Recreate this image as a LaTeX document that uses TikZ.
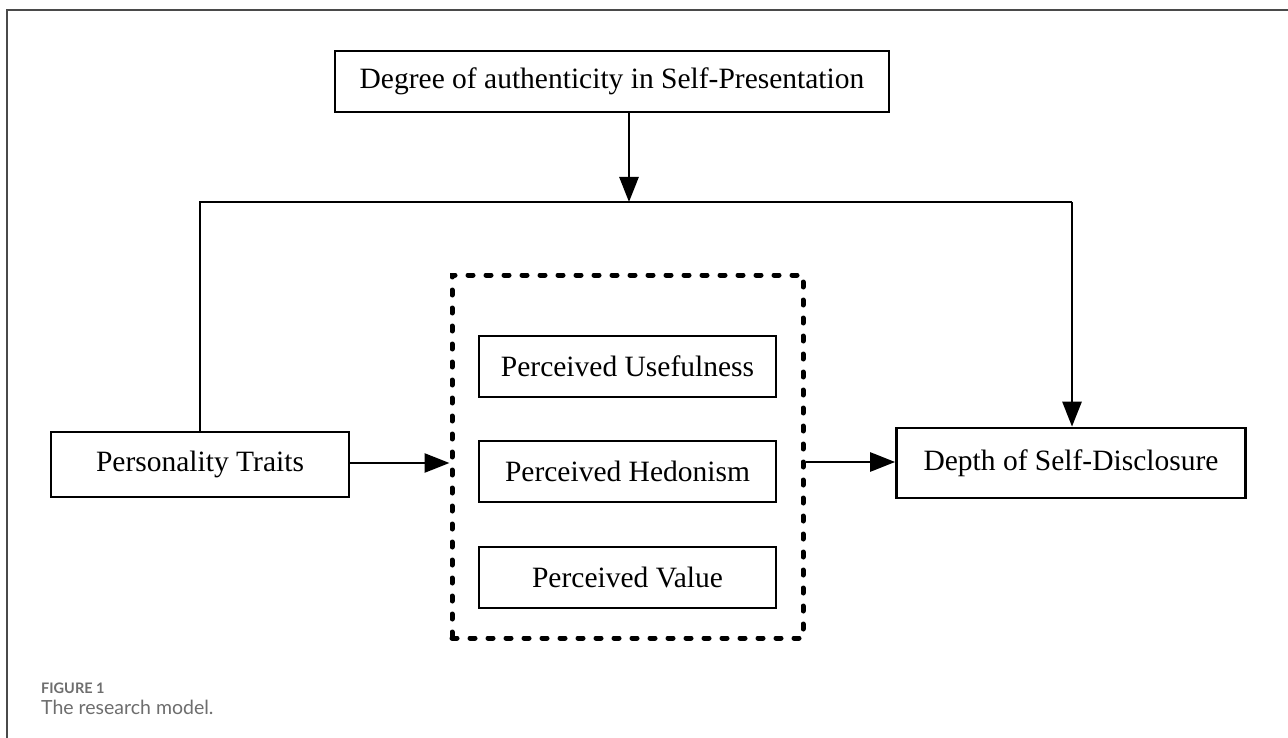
\documentclass[tikz,border=0pt]{standalone}
\usepackage{fontspec}
\setmainfont{Liberation Serif}
\newfontfamily\capfont{Lato}
\usetikzlibrary{arrows.meta}
\definecolor{framegray}{HTML}{4A4A4A}
\definecolor{capgray}{HTML}{6E6E6E}
\begin{document}
\begin{tikzpicture}[x=1pt,y=-1pt,
  box/.style={draw=black,line width=2.7pt,inner sep=0pt,font=\fontsize{29.5}{34}\selectfont},
  conn/.style={line width=2.7pt},
  arr/.style={conn,-{Triangle[length=25pt,width=19pt]}},
  grp/.style={draw=black,line width=5pt,dash pattern=on 5pt off 13pt,line cap=round}]
\useasboundingbox (0,0) rectangle (1288,738);
\fill[white] (0,0) rectangle (1288,738);
% outer frame
\draw[framegray,line width=2pt] (7,738) -- (7,10) -- (1288,10);
% nodes
\node[box,minimum width=554pt,minimum height=61pt] (top) at (612,81.5) {Degree of authenticity in Self-Presentation};
\node[box,minimum width=298pt,minimum height=65pt] (pt) at (200,464.5) {Personality Traits};
\node[box,minimum width=349pt,minimum height=70pt] (ds) at (1071,463) {Depth of Self-Disclosure};
\node[box,minimum width=297pt,minimum height=61pt] (pu) at (627.5,366.5) {Perceived Usefulness};
\node[box,minimum width=297pt,minimum height=61pt] (ph) at (627.5,471.5) {Perceived Hedonism};
\node[box,minimum width=297pt,minimum height=61pt] (pv) at (627.5,577.5) {Perceived Value};
\node[grp,minimum width=351pt,minimum height=363pt,inner sep=0pt] (med) at (627.5,456.5) {};
% junction coordinates
\coordinate (jl) at (200,202);
\coordinate (jm) at (629,202);
\coordinate (jr) at (1072,202);
% connectors
\draw[arr] (top.south -| jm) -- (jm);
\draw[conn] (pt.north) -- (jl) -- (jr);
\draw[arr] (jr) -- (jr |- ds.north);
\draw[arr] (pt.east |- 0,463) -- (med.west |- 0,463);
\draw[arr] (med.east |- 0,462) -- (ds.west |- 0,462);
% caption
\node[anchor=base west,inner sep=0pt,text=capgray,font=\capfont\fontsize{14.5}{16}\selectfont\bfseries] (fig) at (41,693) {FIGURE 1};
\node[anchor=base west,inner sep=0pt,text=capgray,font=\capfont\fontsize{19.5}{22}\selectfont] (cap) at (41,714) {The research model.};
\end{tikzpicture}
\end{document}
